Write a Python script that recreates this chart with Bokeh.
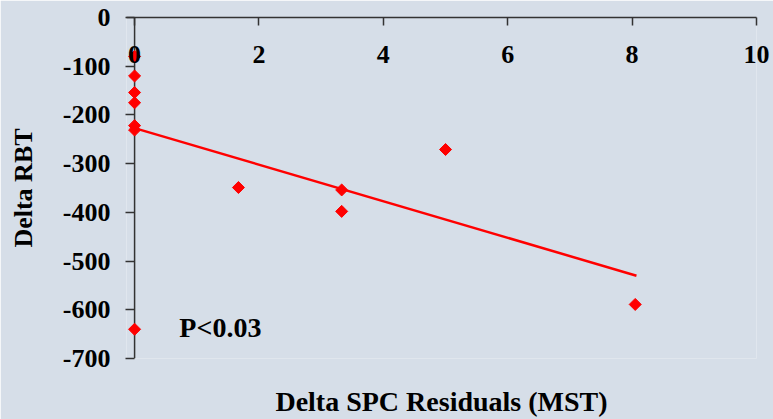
import math
from bokeh.plotting import figure
from bokeh.models import Range1d, LinearAxis, FixedTicker, Label, Span
from bokeh.embed import file_html
from bokeh.resources import INLINE

# ---- data ----
x_vals = [0, 0, 0, 0, 0, 0, 0, 1.67, 3.33, 3.33, 5.0, 8.05]
y_vals = [-80, -120, -154, -175, -222, -231, -640, -349, -354, -398, -271, -589]
fit_x = [0, 8.07]
fit_y = [-227, -530]
x_ticks = [0, 2, 4, 6, 8, 10]
y_ticks = [0, -100, -200, -300, -400, -500, -600, -700]
x_title = "Delta SPC Residuals (MST)"
y_title = "Delta RBT"
p_text = "P<0.03"
p_pos = (0.72, -637)

BG = "#d6dee8"
FONT = "Liberation Serif"
AXC = "#333333"

p = figure(width=773, height=419,
           x_range=Range1d(-0.13, 10), y_range=Range1d(-700, 0),
           output_backend="svg", toolbar_location=None,
           x_axis_location="above",
           min_border_left=126, min_border_top=17,
           min_border_right=17, min_border_bottom=60,
           background_fill_color=BG, border_fill_color=BG,
           outline_line_color=None)
p.grid.visible = False

# top x axis (labels drawn below the line)
xa = p.xaxis[0]
xa.ticker = FixedTicker(ticks=x_ticks)
xa.major_tick_in = 8
xa.major_tick_out = 0
xa.minor_tick_line_color = None
xa.major_label_standoff = -45
xa.axis_line_color = AXC
xa.axis_line_width = 1.5
xa.major_tick_line_color = AXC
xa.major_tick_line_width = 1.5
xa.major_label_text_font = FONT
xa.major_label_text_font_style = "bold"
xa.major_label_text_font_size = "26px"
xa.major_label_text_color = "black"

# left y axis: ticks reach from just outside the frame to x = 0
ya = p.yaxis[0]
ya.ticker = FixedTicker(ticks=y_ticks)
ya.major_label_overrides = {t: str(t) for t in y_ticks}
ya.major_tick_in = 8
ya.major_tick_out = 1
ya.minor_tick_line_color = None
ya.major_label_standoff = 15
ya.axis_line_color = None
ya.major_tick_line_color = AXC
ya.major_tick_line_width = 1.5
ya.major_label_text_font = FONT
ya.major_label_text_font_style = "bold"
ya.major_label_text_font_size = "26px"
ya.major_label_text_color = "black"
ya.axis_label = y_title
ya.axis_label_text_font = FONT
ya.axis_label_text_font_style = "bold"
ya.axis_label_text_font_size = "26px"
ya.axis_label_text_color = "black"
ya.axis_label_standoff = 22

# vertical axis line at x = 0
p.add_layout(Span(location=x_ticks[0], dimension="height", line_color=AXC,
                  line_width=1.5, level="underlay"))

bx = LinearAxis(ticker=FixedTicker(ticks=[]), axis_label=x_title,
                axis_line_color=None, major_tick_line_color=None,
                minor_tick_line_color=None, major_tick_out=0, major_tick_in=0,
                major_label_standoff=0, axis_label_standoff=27,
                axis_label_text_font=FONT, axis_label_text_font_style="bold",
                axis_label_text_font_size="28px", axis_label_text_color="black")
p.add_layout(bx, "below")

p.line(fit_x, fit_y, line_color="red", line_width=2.5)
p.scatter(x_vals, y_vals, marker="square", size=8.5, angle=math.pi / 4,
          fill_color="red", line_color="red")

p.add_layout(Label(x=p_pos[0], y=p_pos[1], text=p_text, text_font=FONT,
                   text_font_style="bold", text_font_size="28px",
                   text_baseline="middle", text_color="black"))

open("out.html", "w").write(file_html(p, INLINE))
